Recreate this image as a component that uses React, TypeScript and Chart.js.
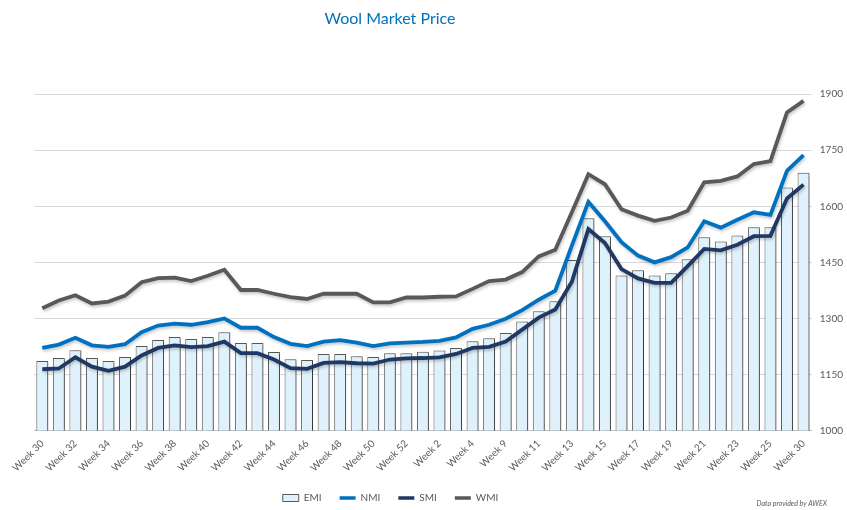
import React, { useEffect, useRef } from 'react';
import { Chart, registerables } from 'chart.js';

Chart.register(...registerables);

const weeks = [
  'Week 30', 'Week 31', 'Week 32', 'Week 33', 'Week 34', 'Week 35', 'Week 36', 'Week 37',
  'Week 38', 'Week 39', 'Week 40', 'Week 41', 'Week 42', 'Week 43', 'Week 44', 'Week 45',
  'Week 46', 'Week 47', 'Week 48', 'Week 49', 'Week 50', 'Week 51', 'Week 52', 'Week 1',
  'Week 2', 'Week 3', 'Week 4', 'Week 8', 'Week 9', 'Week 10', 'Week 11', 'Week 12',
  'Week 13', 'Week 14', 'Week 15', 'Week 16', 'Week 17', 'Week 18', 'Week 19', 'Week 20',
  'Week 21', 'Week 22', 'Week 23', 'Week 24', 'Week 25', 'Week 26', 'Week 30',
];

const emi = [
  1186, 1194, 1215, 1194, 1186, 1197, 1226, 1242, 1250, 1245, 1250, 1263,
  1234, 1234, 1210, 1191, 1189, 1205, 1205, 1199, 1197, 1207, 1207,
  1211, 1214, 1221, 1239, 1247, 1261, 1292, 1319, 1346, 1456, 1568, 1520,
  1415, 1429, 1415, 1421, 1458, 1517, 1506, 1522, 1544, 1544, 1650, 1690,
];

const nmi = [
  1221, 1230, 1248, 1228, 1224, 1231, 1263, 1281, 1286, 1283, 1290, 1300,
  1275, 1275, 1250, 1232, 1226, 1238, 1242, 1235, 1226, 1233, 1235,
  1237, 1240, 1249, 1272, 1283, 1299, 1322, 1350, 1374, 1495, 1612, 1560,
  1504, 1468, 1450, 1464, 1490, 1560, 1543, 1564, 1584, 1577, 1695, 1737,
];

const smi = [
  1164, 1166, 1196, 1171, 1160, 1171, 1201, 1221, 1228, 1223, 1226, 1238,
  1207, 1207, 1190, 1167, 1165, 1181, 1183, 1180, 1179, 1190, 1193,
  1194, 1196, 1205, 1221, 1224, 1238, 1270, 1302, 1324, 1398, 1539, 1502,
  1432, 1407, 1395, 1395, 1440, 1486, 1482, 1497, 1520, 1521, 1621, 1658,
];

const wmi = [
  1327, 1348, 1362, 1340, 1345, 1361, 1397, 1408, 1409, 1400, 1414, 1430,
  1376, 1376, 1366, 1357, 1352, 1366, 1366, 1366, 1343, 1343, 1356,
  1356, 1358, 1359, 1379, 1400, 1404, 1424, 1466, 1484, 1584, 1686, 1659,
  1592, 1575, 1561, 1570, 1588, 1664, 1668, 1680, 1713, 1721, 1851, 1882,
];

const FONT = 'Lato, "Open Sans", sans-serif';
const TEXT = '#595959';

const shadowPlugin = {
  id: 'shadows',
  beforeDatasetDraw(chart: any, args: any) {
    const ctx = chart.ctx;
    ctx.save();
    if (args.meta.type === 'bar') {
      ctx.shadowColor = 'rgba(0,0,0,0.38)';
      ctx.shadowBlur = 2;
      ctx.shadowOffsetX = 3;
      ctx.shadowOffsetY = 1;
    } else {
      ctx.shadowColor = 'rgba(0,0,0,0.22)';
      ctx.shadowBlur = 3;
      ctx.shadowOffsetX = 1;
      ctx.shadowOffsetY = 2;
    }
  },
  afterDatasetDraw(chart: any) {
    chart.ctx.restore();
  },
};

const placementPlugin = {
  id: 'placement',
  afterLayout(chart: any) {
    if (chart.titleBlock) {
      chart.titleBlock.left = 0;
      chart.titleBlock.right = 780;
    }
    if (chart.legend) {
      const lg = chart.legend;
      const h = lg.bottom - lg.top;
      lg.left = 0;
      lg.right = 781;
      lg.top = 475;
      lg.bottom = 475 + h;
    }
  },
  afterDraw(chart: any) {
    const ctx = chart.ctx;
    ctx.save();
    ctx.font = `italic 7px ${FONT}`;
    ctx.fillStyle = TEXT;
    ctx.textAlign = 'right';
    ctx.textBaseline = 'middle';
    ctx.fillText('Data provided by AWEX', 827, 504);
    ctx.restore();
  },
};

export default function App() {
  const canvasRef = useRef<HTMLCanvasElement | null>(null);

  useEffect(() => {
    if (!canvasRef.current) return;
    const chart = new Chart(canvasRef.current, {
      type: 'bar',
      data: {
        labels: weeks,
        datasets: [
          {
            type: 'bar',
            label: 'EMI',
            data: emi,
            backgroundColor: '#DFF2FB',
            borderColor: '#595959',
            borderWidth: 1,
            categoryPercentage: 0.8,
            barPercentage: 0.9,
            order: 10,
          } as any,
          {
            type: 'line',
            label: 'NMI',
            data: nmi,
            borderColor: '#0070C0',
            backgroundColor: '#0070C0',
            borderWidth: 3.8,
            pointRadius: 0,
            tension: 0,
            order: 2,
          },
          {
            type: 'line',
            label: 'SMI',
            data: smi,
            borderColor: '#1F3864',
            backgroundColor: '#1F3864',
            borderWidth: 3.8,
            pointRadius: 0,
            tension: 0,
            order: 1,
          },
          {
            type: 'line',
            label: 'WMI',
            data: wmi,
            borderColor: '#595959',
            backgroundColor: '#595959',
            borderWidth: 3.8,
            pointRadius: 0,
            tension: 0,
            order: 3,
          },
        ],
      },
      options: {
        animation: false,
        responsive: true,
        maintainAspectRatio: false,
        layout: { padding: { left: 34, right: -4, top: 0, bottom: -9 } },
        plugins: {
          title: {
            display: true,
            text: 'Wool Market Price',
            color: '#0070C0',
            font: { family: FONT, size: 16, weight: 'normal' },
            padding: { top: 9, bottom: 66 },
          },
          legend: {
            display: true,
            position: 'bottom',
            labels: {
              usePointStyle: true,
              pointStyleWidth: 16,
              boxHeight: 7,
              padding: 18,
              color: TEXT,
              font: { family: FONT, size: 10 },
              sort: (a: any, b: any) => a.datasetIndex - b.datasetIndex,
              generateLabels(chart: any) {
                const items = (Chart.defaults.plugins.legend.labels as any).generateLabels(chart);
                return items.map((it: any) => {
                  const ds = chart.data.datasets[it.datasetIndex];
                  if (ds.type === 'bar') {
                    return { ...it, pointStyle: 'rect', fillStyle: '#DFF2FB', strokeStyle: '#595959', lineWidth: 1 };
                  }
                  return { ...it, pointStyle: 'line', strokeStyle: ds.borderColor, lineWidth: 3.5 };
                });
              },
            },
          },
          tooltip: { enabled: false },
        },
        scales: {
          x: {
            grid: { display: false, drawTicks: false },
            border: { display: true, color: '#BFBFBF', width: 1 },
            ticks: {
              autoSkip: false,
              maxRotation: 45,
              minRotation: 45,
              padding: 7,
              color: TEXT,
              font: { family: FONT, size: 10 },
              callback: (_v: any, i: number) => (i % 2 === 0 ? weeks[i] : ''),
            },
          },
          y: {
            position: 'right',
            min: 1000,
            max: 1900,
            grid: { color: '#D9D9D9', drawTicks: false },
            border: { display: false },
            ticks: {
              stepSize: 150,
              padding: 8,
              color: TEXT,
              font: { family: FONT, size: 10 },
              callback: (v: any) => String(v),
            },
          },
        },
      },
      plugins: [shadowPlugin, placementPlugin],
    } as any);
    return () => chart.destroy();
  }, []);

  return (
    <div style={{ position: 'fixed', left: 0, top: 0, width: 847, height: 510, background: '#fff' }}>
      <canvas ref={canvasRef} />
    </div>
  );
}
